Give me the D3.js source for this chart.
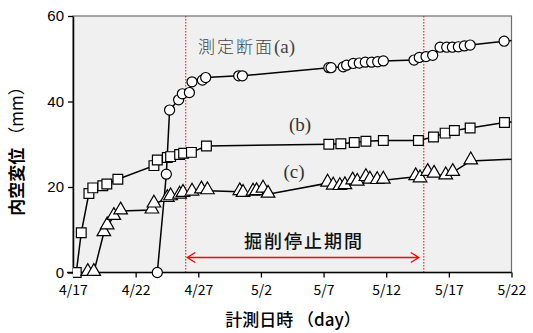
<!doctype html>
<html>
<head>
<meta charset="utf-8">
<script src="https://d3js.org/d3.v7.min.js"></script>
<style>
  body { margin: 0; background: #fff; }
</style>
</head>
<body>
<svg width="533" height="333"></svg>
<script>

// days counted from 4/17
var aDay = [6.73, 7.45, 7.71, 8.43, 8.73, 9.29, 9.5, 10.33, 10.59, 13.23, 13.52,
            20.42, 20.6, 21.57, 21.84, 22.37, 22.85, 23.33, 23.84, 24.32, 24.77,
            27.22, 27.64, 28.18, 28.71, 29.3, 29.83, 30.28, 30.76, 31.24, 31.7, 34.41, 36];
var aVal = [0, 23.0, 38.0, 40.4, 41.8, 42.1, 44.6, 45.0, 45.6, 46.0, 46.0,
            47.9, 47.9, 48.1, 48.5, 48.9, 49.0, 49.2, 49.2, 49.3, 49.5,
            49.7, 50.3, 50.5, 50.8, 52.7, 52.7, 52.7, 52.8, 53.0, 53.2, 54.1, 54.5];

var bDay = [0.26, 0.66, 1.27, 1.58, 2.38, 2.7, 3.58, 6.46, 6.73, 7.53, 7.79, 8.51, 8.83, 9.45, 10.65,
            20.42, 21.38, 22.45, 23.38, 24.77, 27.57, 28.77, 29.7, 30.44, 31.7, 34.44, 36];
var bVal = [0, 9.3, 18.5, 19.8, 20.3, 20.7, 21.8, 25.0, 26.3, 26.9, 27.1, 27.6, 27.9, 28.1, 29.6,
            30.0, 30.1, 30.4, 30.7, 30.9, 30.9, 31.7, 32.6, 33.2, 33.8, 35.1, 35.4];

var cDay = [1.18, 1.66, 2.46, 2.73, 3.26, 3.8, 6.3, 6.46, 7.53, 7.79, 8.51, 8.78, 9.5, 10.25, 10.73,
            13.31, 13.57, 14.37, 14.65, 15.17, 15.57,
            20.32, 20.77, 21.3, 21.7, 22.32, 22.69, 23.38, 23.7, 24.28, 24.77,
            27.35, 27.7, 28.31, 28.82, 29.75, 30.31, 31.75, 36];
var cVal = [0, 0, 9.3, 10.9, 13.1, 14.4, 14.6, 16.0, 17.3, 17.7, 18.1, 18.5, 18.8, 19.3, 19.1,
            18.9, 18.5, 18.8, 18.9, 19.5, 18.3,
            20.9, 20.2, 20.1, 20.3, 21.4, 21.1, 22.2, 21.6, 21.5, 21.6,
            22.4, 21.9, 23.4, 23.0, 22.6, 23.4, 26.1, 26.6];

var xTickDays = [0, 5, 10, 15, 20, 25, 30, 35];
var xTickLabels = ["4/17", "4/22", "4/27", "5/2", "5/7", "5/12", "5/17", "5/22"];
var yTicks = [0, 20, 40, 60];
var stopDays = [9, 28];   // 4/26 .. 5/15

var JP = '"Noto Sans CJK JP", sans-serif',
    SANS = '"Liberation Sans", Arial, sans-serif',
    SERIF = '"Liberation Serif", "DejaVu Serif", serif';

var svg = d3.select("svg"),
    pLeft = 73, pRight = 511.5, pTop = 16, pBottom = 272.5;

var x = d3.scaleLinear().domain([0, 35]).range([pLeft, pRight]);
var y = d3.scaleLinear().domain([0, 60]).range([pBottom, pTop]);

svg.append("rect")
   .attr("x", pLeft).attr("y", pTop)
   .attr("width", pRight - pLeft).attr("height", pBottom - pTop)
   .attr("fill", "#f0f0f0")
   .attr("stroke", "#6e6e6e").attr("stroke-width", 1.2);

svg.append("defs").append("clipPath").attr("id", "clip")
   .append("rect")
   .attr("x", pLeft).attr("y", pTop - 8)
   .attr("width", pRight - pLeft).attr("height", pBottom - pTop + 16);

// stop period lines
svg.selectAll(".stop")
   .data(stopDays)
   .enter().append("line")
   .attr("x1", function(d) { return x(d); }).attr("x2", function(d) { return x(d); })
   .attr("y1", pTop).attr("y2", pBottom)
   .attr("stroke", "#ff0000").attr("stroke-width", 1)
   .attr("stroke-dasharray", "1.5,1.5");

// arrow
var ay = 257.5, ax1 = x(stopDays[0]) + 1.5, ax2 = x(stopDays[1]) - 5;
svg.append("path")
   .attr("d", "M" + ax1 + "," + ay + "H" + ax2 +
              "M" + (ax1 + 8) + "," + (ay - 5) + "L" + ax1 + "," + ay + "L" + (ax1 + 8) + "," + (ay + 5) +
              "M" + (ax2 - 8) + "," + (ay - 5) + "L" + ax2 + "," + ay + "L" + (ax2 - 8) + "," + (ay + 5))
   .attr("fill", "none").attr("stroke", "#ff0000").attr("stroke-width", 1.3);

svg.append("text")
   .attr("x", 304).attr("y", 248)
   .attr("text-anchor", "middle")
   .style("font-family", JP).style("font-size", "18px").style("font-weight", 500)
   .attr("letter-spacing", "2px")
   .attr("fill", "#111")
   .text("掘削停止期間");

// axes
var xAxis = svg.append("g")
   .attr("transform", "translate(0," + pBottom + ")")
   .call(d3.axisBottom(x).tickValues(xTickDays).tickSize(5).tickSizeOuter(0)
         .tickFormat(function(d, i) { return xTickLabels[i]; }));
xAxis.select(".domain").attr("stroke", "#000").attr("stroke-width", 1.5).attr("d", "M" + (pLeft - 6) + ",0H" + pRight);
xAxis.selectAll("line").attr("stroke-width", 1.3);
xAxis.selectAll("text").style("font-family", JP).style("font-size", "14px").attr("fill", "#000").attr("dy", "1.05em");

var yAxis = svg.append("g")
   .attr("transform", "translate(" + pLeft + ",0)")
   .call(d3.axisLeft(y).tickValues(yTicks).tickSize(5).tickSizeOuter(0));
yAxis.select(".domain").attr("stroke", "#000").attr("stroke-width", 1.5);
yAxis.selectAll("line").attr("stroke-width", 1.3);
yAxis.selectAll("text").style("font-family", SANS).style("font-size", "15px").attr("fill", "#000").attr("x", -9);

// series
var series = [
    { days: aDay, vals: aVal, shape: "circle" },
    { days: bDay, vals: bVal, shape: "square" },
    { days: cDay, vals: cVal, shape: "triangle" }
];

var plot = svg.append("g").attr("clip-path", "url(#clip)");
var line = d3.line()
    .x(function(d) { return x(d[0]); })
    .y(function(d) { return y(d[1]); });

series.forEach(function(s) {
    var pts = s.days.map(function(d, i) { return [d, s.vals[i]]; });
    plot.append("path")
        .attr("d", line(pts))
        .attr("fill", "none").attr("stroke", "#000").attr("stroke-width", 1.5);

    var sym = s.shape == "circle" ? d3.symbolCircle : (s.shape == "square" ? d3.symbolSquare : d3.symbolTriangle);
    var size = s.shape == "circle" ? 80 : (s.shape == "square" ? 95 : 80);
    plot.selectAll(".m-" + s.shape)
        .data(pts.filter(function(p) { return p[0] <= 35; }))
        .enter().append("path")
        .attr("class", "m-" + s.shape)
        .attr("transform", function(p) {
            return "translate(" + x(p[0]) + "," + (y(p[1]) + (s.shape == "triangle" ? -1 : 0)) + ")";
        })
        .attr("d", d3.symbol().type(sym).size(size))
        .attr("fill", "#fff").attr("stroke", "#000").attr("stroke-width", 1.2);
});

// series labels
var lab1 = svg.append("text")
   .attr("x", 198).attr("y", 53)
   .attr("fill", "#444")
   .style("font-family", JP).style("font-size", "17px").style("font-weight", 300);
lab1.append("tspan").attr("letter-spacing", "2px").text("測定断面");
lab1.append("tspan").style("font-family", SERIF).style("font-size", "19px").text("(a)");

svg.append("text")
   .attr("x", 300).attr("y", 131).attr("text-anchor", "middle")
   .style("font-family", SERIF).style("font-size", "19px").attr("fill", "#333")
   .text("(b)");
svg.append("text")
   .attr("x", 294).attr("y", 178).attr("text-anchor", "middle")
   .style("font-family", SERIF).style("font-size", "19px").attr("fill", "#333")
   .text("(c)");

// axis titles
svg.append("text")
   .attr("x", 293).attr("y", 326).attr("text-anchor", "middle")
   .style("font-family", JP).style("font-size", "17px").style("font-weight", 500)
   .text("計測日時 （day）");

var ylab = svg.append("text")
   .attr("transform", "translate(23,147) rotate(-90)")
   .attr("text-anchor", "middle")
   .style("font-family", JP).style("font-size", "17px");
ylab.append("tspan").style("font-weight", 700).text("内空変位 ");
ylab.append("tspan").style("font-weight", 400).text("（mm）");

</script>
</body>
</html>
